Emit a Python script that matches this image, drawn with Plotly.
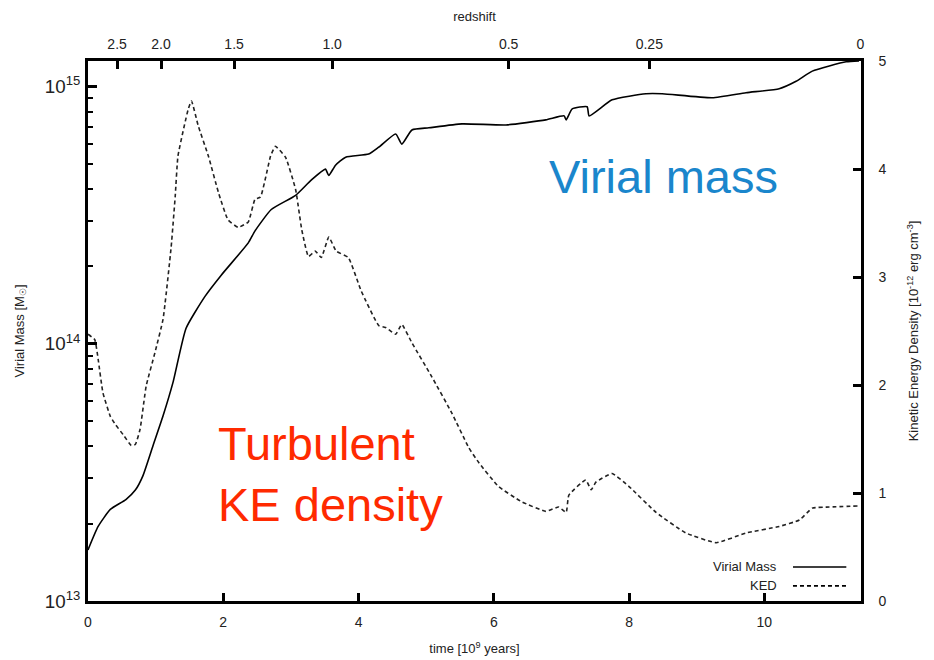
import plotly.graph_objects as go

# ---- data ----
mass_time = [0.00, 0.15, 0.33, 0.56, 0.70, 0.81, 0.96, 1.11, 1.26, 1.45, 1.73, 1.97, 2.37,
             2.47, 2.71, 3.07, 3.30, 3.51, 3.56, 3.66, 3.81, 4.15, 4.30, 4.55, 4.64, 4.79,
             5.04, 5.53, 6.18, 6.77, 7.04, 7.07, 7.16, 7.38, 7.41, 7.75, 8.25, 8.49, 9.23,
             9.73, 10.22, 10.47, 10.71, 11.21, 11.40]
virial_mass = [1.58e13, 1.95e13, 2.27e13, 2.48e13, 2.70e13, 3.06e13, 4.01e13, 5.25e13,
               7.13e13, 1.15e14, 1.53e14, 1.85e14, 2.47e14, 2.75e14, 3.33e14, 3.78e14,
               4.33e14, 4.78e14, 4.52e14, 4.95e14, 5.32e14, 5.47e14, 5.82e14, 6.55e14,
               5.98e14, 6.79e14, 6.92e14, 7.17e14, 7.10e14, 7.43e14, 7.70e14, 7.43e14,
               8.20e14, 8.36e14, 7.70e14, 8.89e14, 9.39e14, 9.39e14, 9.06e14, 9.48e14,
               9.82e14, 1.05e15, 1.15e15, 1.25e15, 1.26e15]

ked_time = [0.00, 0.10, 0.15, 0.22, 0.33, 0.41, 0.52, 0.64, 0.70, 0.77, 0.86, 0.99, 1.11,
            1.23, 1.29, 1.33, 1.48, 1.53, 1.63, 1.78, 1.93, 2.07, 2.22, 2.37, 2.47, 2.55,
            2.70, 2.77, 2.92, 3.07, 3.16, 3.26, 3.36, 3.45, 3.56, 3.67, 3.85, 4.04, 4.30,
            4.41, 4.55, 4.64, 4.79, 5.08, 5.38, 5.63, 5.78, 6.07, 6.41, 6.77, 6.96, 7.07,
            7.11, 7.36, 7.44, 7.51, 7.75, 8.00, 8.40, 8.84, 9.29, 9.73, 10.22, 10.52,
            10.71, 10.96, 11.40]
ked = [2.47, 2.42, 2.24, 1.93, 1.71, 1.63, 1.54, 1.44, 1.45, 1.59, 1.99, 2.30, 2.61,
       3.28, 3.75, 4.12, 4.55, 4.63, 4.40, 4.12, 3.78, 3.53, 3.46, 3.51, 3.72, 3.74,
       4.12, 4.21, 4.11, 3.81, 3.44, 3.19, 3.24, 3.18, 3.37, 3.24, 3.18, 2.87, 2.55,
       2.53, 2.47, 2.56, 2.39, 2.08, 1.74, 1.42, 1.28, 1.06, 0.92, 0.83, 0.87, 0.82,
       0.98, 1.12, 1.03, 1.10, 1.18, 1.06, 0.82, 0.63, 0.54, 0.63, 0.69, 0.75,
       0.86, 0.87, 0.88]

redshift_labels = ["2.5", "2.0", "1.5", "1.0", "0.5", "0.25", "0"]
redshift_time = [0.43, 1.08, 2.16, 3.61, 6.22, 8.30, 11.42]

series_names = ["Virial Mass", "KED"]

FONT = "Liberation Sans, Arial, sans-serif"
TXT = "#222"
T_MAX = 11.43
DASH = "4px,3px"

fig = go.Figure()
fig.add_trace(go.Scatter(x=mass_time, y=virial_mass, mode="lines", name=series_names[0],
                         line=dict(color="black", width=1.6, shape="spline", smoothing=0.5),
                         xaxis="x", yaxis="y", showlegend=False))
fig.add_trace(go.Scatter(x=ked_time, y=ked, mode="lines", name=series_names[1],
                         line=dict(color="#222", width=1.6, dash=DASH, shape="spline",
                                   smoothing=0.4),
                         xaxis="x", yaxis="y2", showlegend=False))
# invisible trace to anchor the top (redshift) axis
fig.add_trace(go.Scatter(x=redshift_time, y=[1e13] * len(redshift_time), mode="lines",
                         line=dict(width=0), opacity=0, xaxis="x2", yaxis="y",
                         showlegend=False, hoverinfo="skip"))

axis_line = dict(showline=True, linecolor="black", linewidth=2.5, showgrid=False,
                 zeroline=False, ticks="inside", tickcolor="black", tickwidth=2.5,
                 automargin=False)

fig.update_layout(
    width=934, height=660,
    margin=dict(l=88, r=73, t=61, b=59),
    paper_bgcolor="white", plot_bgcolor="white",
    font=dict(family=FONT, color=TXT, size=14),
    xaxis=dict(range=[0, T_MAX], tickvals=[0, 2, 4, 6, 8, 10], ticklen=8,
               ticklabelstandoff=6,
               title=dict(text="time [10<sup>9</sup> years]", font=dict(size=13), standoff=16),
               **axis_line),
    xaxis2=dict(range=[0, T_MAX], overlaying="x", side="top", anchor="y",
                tickvals=redshift_time, ticktext=redshift_labels, ticklen=8,
                ticklabelstandoff=4,
                title=dict(text="redshift", font=dict(size=13), standoff=12),
                **axis_line),
    yaxis=dict(type="log", range=[13, 15.1], dtick=1, exponentformat="power",
               ticklen=9, ticklabelstandoff=2, tickfont=dict(size=15),
               minor=dict(dtick="D1", ticks="inside", ticklen=5, tickcolor="black",
                          tickwidth=2, showgrid=False),
               title=dict(text="Virial Mass [M<sub>☉</sub>]", font=dict(size=13), standoff=18),
               **axis_line),
    yaxis2=dict(range=[0, 5], dtick=1, overlaying="y", side="right", anchor="x",
                ticklen=8, ticklabelstandoff=12,
                title=dict(text="Kinetic Energy Density [10<sup>-12</sup> erg cm<sup>-3</sup>]",
                           font=dict(size=13), standoff=24),
                **axis_line),
)

# big labels
fig.add_annotation(xref="paper", yref="paper", x=0.745, y=0.787, text="Virial mass",
                   showarrow=False, font=dict(size=47, color="#1a86cc", family=FONT),
                   xanchor="center", yanchor="middle")
fig.add_annotation(xref="paper", yref="paper", x=0.166, y=0.235,
                   text="Turbulent<br>KE density", align="left",
                   showarrow=False, font=dict(size=47, color="#ff2a00", family=FONT),
                   xanchor="left", yanchor="middle")

# key (text then line sample, as in the reference)
for name, yy, dash in [(series_names[0], 0.063, "solid"), (series_names[1], 0.028, DASH)]:
    fig.add_annotation(xref="paper", yref="paper", x=0.894, y=yy, text=name,
                       showarrow=False, xanchor="right", yanchor="middle",
                       font=dict(size=13, color=TXT, family=FONT))
    fig.add_shape(type="line", xref="paper", yref="paper", x0=0.912, x1=0.981, y0=yy, y1=yy,
                  line=dict(color="black", width=1.6, dash=dash))

fig.write_html("out.html")
